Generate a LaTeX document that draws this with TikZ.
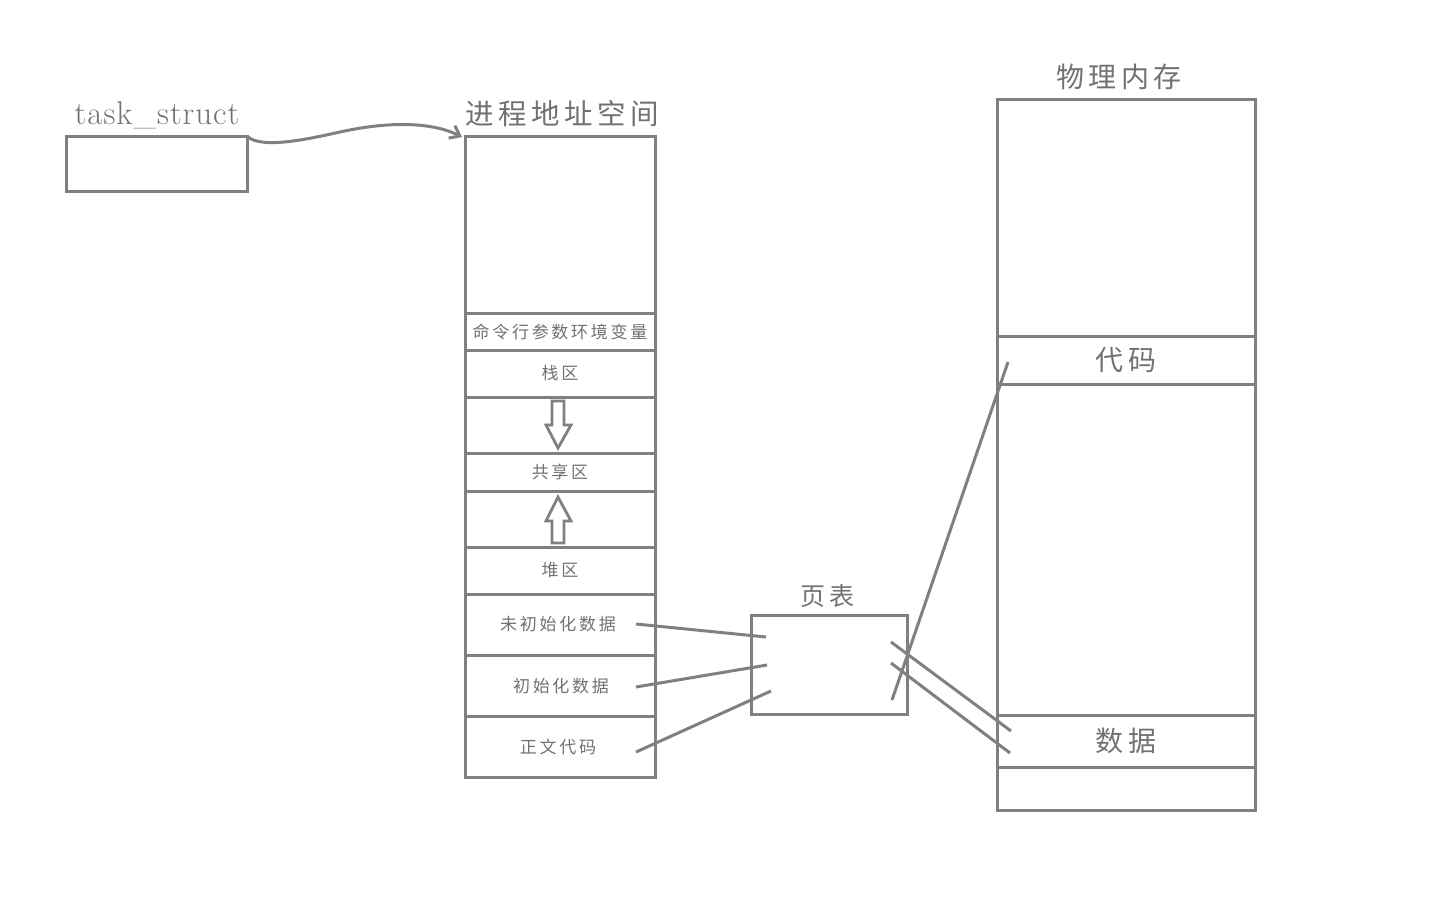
\documentclass[tikz,border=0pt]{standalone}
\usepackage{fontspec}
\newfontfamily\cjk[LetterSpace=16]{Noto Sans CJK SC}
\newfontfamily\lat[LetterSpace=3]{Latin Modern Roman}
\usetikzlibrary{arrows.meta}
\definecolor{lc}{HTML}{808080}
\definecolor{tc}{HTML}{717171}
\begin{document}
\begin{tikzpicture}[x=1pt,y=-1pt,
  box/.style={draw=lc, line width=3pt, inner sep=0pt, outer sep=0pt},
  conn/.style={draw=lc, line width=3pt},
  small/.style={text=tc, font=\cjk\fontsize{17}{20}\selectfont},
  mid/.style={text=tc, font=\cjk\fontsize{25}{28}\selectfont},
  big/.style={text=tc, font=\cjk\fontsize{28}{32}\selectfont},
  blockarrow/.style={draw=lc, line width=2.8pt, fill=white}]
\useasboundingbox (0,0) rectangle (1431,916);

% task_struct
\node[box, minimum width=181pt, minimum height=55pt] (ts) at (156.5,163.5) {};
\node[text=tc, font=\lat\fontsize{33}{36}\selectfont, anchor=base] (tslabel) at (157,124) {task\_struct};

% process address space
\node[big, font=\cjk\fontsize{28.5}{32}\selectfont] (pastitle) at (562,114) {进程地址空间};
\node[box, minimum width=190pt, minimum height=177pt] (r0) at (560,224.5) {};
\node[box, minimum width=190pt, minimum height=37pt, small] (r1) at (560,331.5) {命令行参数环境变量};
\node[box, minimum width=190pt, minimum height=47pt, small] (r2) at (560,373.5) {栈区};
\node[box, minimum width=190pt, minimum height=56pt] (r3) at (560,425) {};
\node[box, minimum width=190pt, minimum height=38pt, small] (r4) at (560,472) {共享区};
\node[box, minimum width=190pt, minimum height=56pt] (r5) at (560,519) {};
\node[box, minimum width=190pt, minimum height=47pt, small] (r6) at (560,570.5) {堆区};
\node[box, minimum width=190pt, minimum height=61pt] (r7) at (560,624.5) {};
\node[box, minimum width=190pt, minimum height=61pt] (r8) at (560,685.5) {};
\node[box, minimum width=190pt, minimum height=61pt] (r9) at (560,746.5) {};
\node[small] (l7) at (558,624) {未初始化数据};
\node[small] (l8) at (561,686) {初始化数据};
\node[small] (l9) at (558,747) {正文代码};

% block arrows
\draw[blockarrow] (552,401) -- (564,401) -- (564,425) -- (571,425) -- (558,448) -- (546,425) -- (552,425) -- cycle;
\draw[blockarrow] (552,543) -- (564,543) -- (564,521) -- (571,521) -- (558,497) -- (546,521) -- (552,521) -- cycle;

% page table
\node[mid] (pttitle) at (827,596) {页表};
\node[box, minimum width=156pt, minimum height=99pt] (pt) at (829,664.5) {};

% physical memory
\node[big] (pmtitle) at (1119,77) {物理内存};
\node[box, minimum width=258pt, minimum height=237pt] (m0) at (1126,217.5) {};
\node[box, minimum width=258pt, minimum height=48pt, big] (m1) at (1126,360) {代码};
\node[box, minimum width=258pt, minimum height=331pt] (m2) at (1126,549.5) {};
\node[box, minimum width=258pt, minimum height=52pt, big] (m3) at (1126,741) {数据};
\node[box, minimum width=258pt, minimum height=43pt] (m4) at (1126,788.5) {};

% connector endpoints
\coordinate (a1) at (636,624);
\coordinate (b1) at (766,637);
\coordinate (a2) at (636,687);
\coordinate (b2) at (767,665);
\coordinate (a3) at (636,752);
\coordinate (b3) at (771,691);
\coordinate (c1) at (892,700);
\coordinate (d1) at (1008,362);
\coordinate (c2) at (891,642);
\coordinate (d2) at (1011,731);
\coordinate (c3) at (891,663);
\coordinate (d3) at (1010,753);

\draw[conn] (a1) -- (b1);
\draw[conn] (a2) -- (b2);
\draw[conn] (a3) -- (b3);
\draw[conn] (c1) -- (d1);
\draw[conn] (c2) -- (d2);
\draw[conn] (c3) -- (d3);

% curved pointer
\coordinate (tsout) at (248,137);
\coordinate (pasin) at (462,137);
\draw[conn, -{Straight Barb[length=9pt,width=14pt]}] (tsout) .. controls (262,148) and (300,141) .. (340,132) .. controls (385,122) and (430,121) .. (pasin);
\end{tikzpicture}
\end{document}
